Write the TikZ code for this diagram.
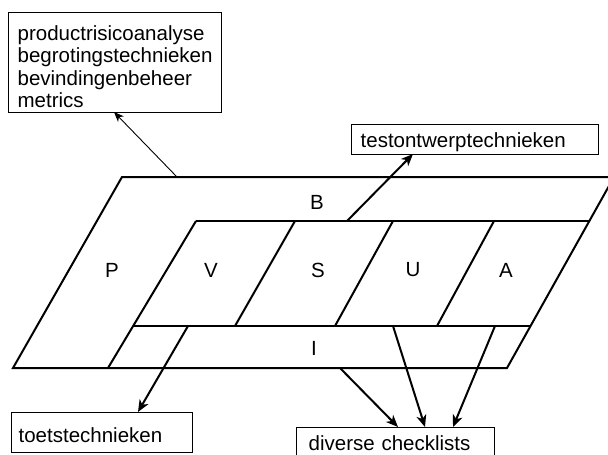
\documentclass[tikz,border=0pt]{standalone}
\usepackage{fontspec}
\setmainfont{Liberation Sans}
\usetikzlibrary{arrows.meta}
\begin{document}
\begin{tikzpicture}[x=1pt,y=-1pt,
  thk/.style={line width=2pt, line join=miter},
  conn/.style={line width=2pt, -{Stealth[length=12pt,width=10pt,inset=3.5pt]}},
  thinconn/.style={line width=0.9pt, -{Stealth[length=10pt,width=8pt,inset=3pt]}},
  box/.style={draw, line width=1.3pt, anchor=north west, align=left, inner ysep=0pt,
    font=\fontsize{20.5}{22.6}\selectfont},
  lbl/.style={font=\fontsize{20.5}{22.6}\selectfont, inner sep=0pt}]
\useasboundingbox (0,0) rectangle (608,455);

% frame corners
\coordinate (otl) at (122,177);
\coordinate (otr) at (614,177);
\coordinate (obr) at (507,368);
\coordinate (obl) at (13,368);
\coordinate (itl) at (196,221);
\coordinate (itr) at (589,221);
\coordinate (ibl) at (133,326);
\coordinate (ibr) at (530,326);
\coordinate (ilb) at (108,368);

\draw[thk] (otl) -- (otr) -- (obr) -- (obl) -- cycle;
\draw[thk] (itl) -- (itr);
\draw[thk] (ibl) -- (ibr);
\draw[thk] (itl) -- (ilb);
\draw[thk] (295,221) -- (235,326);
\draw[thk] (393,221) -- (335,326);
\draw[thk] (494,221) -- (437,326);

% labels
\node[lbl] (P) at (112,270) {P};
\node[lbl] (V) at (211,270) {V};
\node[lbl] (S) at (318,270) {S};
\node[lbl] (U) at (413,270) {U};
\node[lbl] (A) at (506,270) {A};
\node[lbl] (B) at (317,202) {B};
\node[lbl] (I) at (314,348) {I};

% boxes
\node[box, inner xsep=9pt, text width=195pt, minimum height=100pt] (b1) at (8,12)
  {\rule{0pt}{23pt}productrisicoanalyse\\begrotingstechnieken\\bevindingenbeheer\\metrics};
\node[box, inner xsep=9pt, text width=229pt, minimum height=30pt, text height=16pt, text depth=1pt] (b2) at (351,124)
  {testontwerptechnieken};
\node[box, inner xsep=7pt, text width=167pt, minimum height=40pt, text height=20pt, text depth=0pt] (b3) at (11,412)
  {toetstechnieken};
\node[box, inner xsep=12pt, text width=174pt, minimum height=30pt, text height=16pt, text depth=1pt] (b4) at (296,427)
  {diverse checklists};

% connector ends
\coordinate (s1) at (177,177);  \coordinate (e1) at (114,112);
\coordinate (s2) at (347,221);  \coordinate (e2) at (413,154);
\coordinate (s3) at (188,326);  \coordinate (e3) at (138,412);
\coordinate (s4) at (340,368);  \coordinate (e4) at (398,427);
\coordinate (s5) at (393,326);  \coordinate (e5) at (425,427);
\coordinate (s6) at (495,326);  \coordinate (e6) at (453,427);

\draw[thinconn] (s1) -- (e1);
\draw[conn] (s2) -- (e2);
\draw[conn] (s3) -- (e3);
\draw[conn] (s4) -- (e4);
\draw[conn] (s5) -- (e5);
\draw[conn] (s6) -- (e6);
\end{tikzpicture}
\end{document}
